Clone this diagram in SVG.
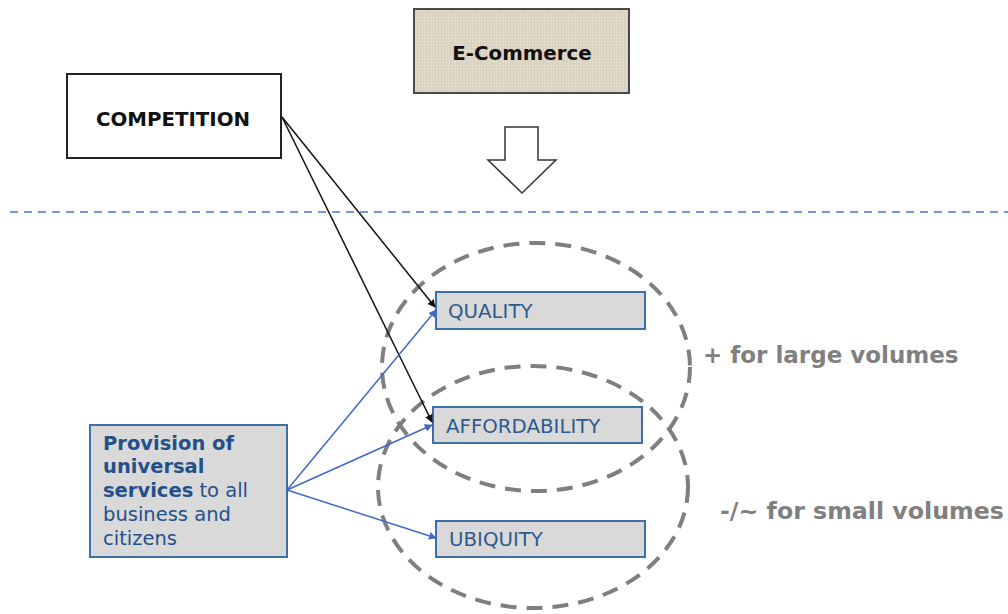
<svg xmlns="http://www.w3.org/2000/svg" width="1008" height="614" viewBox="0 0 1008 614">
<style>
  .t { font-family: "DejaVu Sans", Verdana, sans-serif; }
  .title { font-size: 19.8px; font-weight: bold; fill: #111; text-anchor: middle; }
  .item { fill: #d9d9d9; stroke: #3d6fa8; stroke-width: 2; }
  .itemtxt { font-size: 19.8px; fill: #2f5a8f; }
  .side { font-weight: bold; fill: #808080; }
  .ell { fill: none; stroke: #7f7f7f; stroke-width: 4; stroke-dasharray: 16 10; }
  .blk { stroke: #111; stroke-width: 1.5; fill: none; }
  .blu { stroke: #4169c4; stroke-width: 1.5; fill: none; }
</style>
<defs>
  <marker id="ah-black" viewBox="0 0 10 10" refX="9" refY="5" markerWidth="8" markerHeight="8" markerUnits="userSpaceOnUse" orient="auto">
    <path d="M0,0 L10,5 L0,10 z" fill="#111"/>
  </marker>
  <marker id="ah-blue" viewBox="0 0 10 10" refX="9" refY="5" markerWidth="8" markerHeight="8" markerUnits="userSpaceOnUse" orient="auto">
    <path d="M0,0 L10,5 L0,10 z" fill="#4169c4"/>
  </marker>
  <pattern id="burlap" width="6" height="6" patternUnits="userSpaceOnUse">
    <rect width="6" height="6" fill="#ddd5c4"/>
    <path d="M0,1 H6 M0,4 H6" stroke="#cdc2ac" stroke-width="0.8"/>
    <path d="M2,0 V6 M5,0 V6" stroke="#e9e3d6" stroke-width="0.8"/>
  </pattern>
</defs>

<line x1="10" y1="212" x2="1008" y2="212" stroke="#4a74c9" stroke-width="1.5" stroke-dasharray="8 6"/>

<g id="ellipses">
  <ellipse class="ell" cx="536" cy="367" rx="154" ry="124"/>
  <ellipse class="ell" cx="533" cy="487" rx="155" ry="121"/>
</g>

<g id="ecommerce">
  <rect x="414" y="9" width="215" height="84" fill="url(#burlap)" stroke="#4a4a4a" stroke-width="2"/>
  <text class="t title" x="522" y="60">E-Commerce</text>
</g>

<g id="block-arrow">
  <polygon points="505,127 538,127 538,160 556,160 522,193 488,160 505,160" fill="#fff" stroke="#333" stroke-width="1.5"/>
</g>

<g id="competition">
  <rect x="67" y="74" width="214" height="84" fill="#fff" stroke="#222" stroke-width="2"/>
  <text class="t title" x="173" y="126">COMPETITION</text>
</g>

<g id="quality">
  <rect class="item" x="436" y="292" width="209" height="37"/>
  <text class="t itemtxt" x="448" y="318">QUALITY</text>
</g>

<g id="affordability">
  <rect class="item" x="433" y="407" width="209" height="36"/>
  <text class="t itemtxt" x="446" y="433">AFFORDABILITY</text>
</g>

<g id="ubiquity">
  <rect class="item" x="436" y="521" width="209" height="36"/>
  <text class="t itemtxt" x="449" y="546">UBIQUITY</text>
</g>

<g id="provision">
  <rect class="item" x="90" y="425" width="197" height="132"/>
  <text class="t" font-size="19.5" fill="#24508a">
    <tspan x="103" y="450" font-weight="bold">Provision of</tspan>
    <tspan x="103" y="473" font-weight="bold">universal</tspan>
    <tspan x="103" y="497"><tspan font-weight="bold">services</tspan> to all</tspan>
    <tspan x="103" y="521">business and</tspan>
    <tspan x="103" y="545">citizens</tspan>
  </text>
</g>

<g id="labels">
  <text class="t side" font-size="23" x="703" y="363">+ for large volumes</text>
  <text class="t side" font-size="23.7" x="720" y="519">-/~ for small volumes</text>
</g>

<g id="connectors">
  <line class="blk" x1="282" y1="117" x2="435" y2="307" marker-end="url(#ah-black)"/>
  <line class="blk" x1="282" y1="117" x2="432" y2="422" marker-end="url(#ah-black)"/>
  <line class="blu" x1="287" y1="490" x2="436" y2="310" marker-end="url(#ah-blue)"/>
  <line class="blu" x1="287" y1="490" x2="432" y2="425" marker-end="url(#ah-blue)"/>
  <line class="blu" x1="287" y1="490" x2="436" y2="538" marker-end="url(#ah-blue)"/>
</g>
</svg>
